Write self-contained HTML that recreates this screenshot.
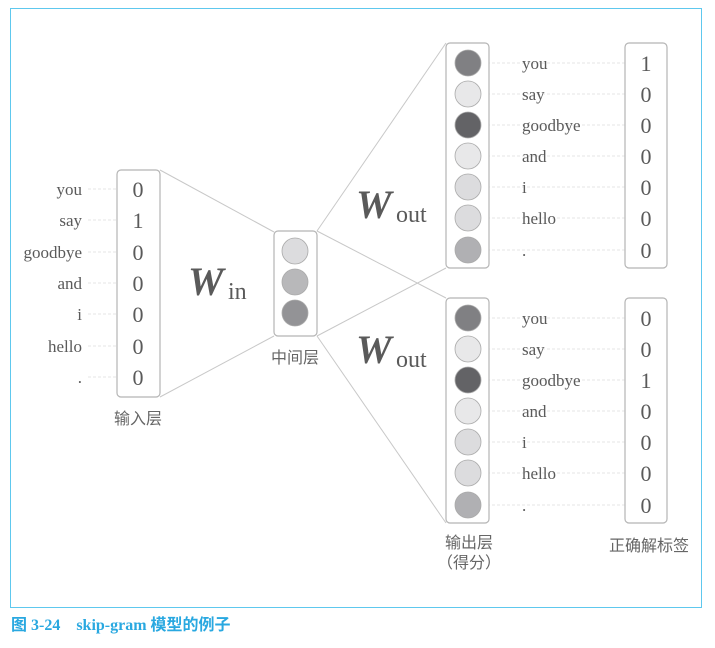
<!DOCTYPE html>
<html><head><meta charset="utf-8"><style>
body{margin:0;background:#fff;width:715px;height:643px;overflow:hidden}
svg text{font-family:"Liberation Serif","Noto Serif CJK SC",serif;fill:#5a5a5a}
.cj{font-family:"Liberation Sans","Noto Sans CJK SC",sans-serif;fill:#666;font-size:16px}
</style></head><body>
<svg width="715" height="643" xmlns="http://www.w3.org/2000/svg">
<rect x="10.5" y="8.5" width="691" height="599" fill="none" stroke="#5ec8ee" stroke-width="1"/>
<g stroke="#c8c8c8" stroke-width="1" fill="none">
<line x1="160" y1="170" x2="274" y2="232"/>
<line x1="160" y1="397" x2="274" y2="336"/>
<line x1="317" y1="231" x2="446" y2="43"/>
<line x1="317" y1="231" x2="446" y2="298"/>
<line x1="317" y1="336" x2="446" y2="268"/>
<line x1="317" y1="336" x2="446" y2="523"/>
</g>
<g stroke="#e6e6e6" stroke-dasharray="3,2" stroke-width="1">
<line x1="88" y1="189" x2="125" y2="189"/><line x1="88" y1="220" x2="125" y2="220"/><line x1="88" y1="252" x2="125" y2="252"/><line x1="88" y1="283" x2="125" y2="283"/><line x1="88" y1="314" x2="125" y2="314"/><line x1="88" y1="346" x2="125" y2="346"/><line x1="88" y1="377" x2="125" y2="377"/>
<line x1="482" y1="63" x2="635" y2="63"/><line x1="482" y1="94" x2="635" y2="94"/><line x1="482" y1="125" x2="635" y2="125"/><line x1="482" y1="156" x2="635" y2="156"/><line x1="482" y1="187" x2="635" y2="187"/><line x1="482" y1="218" x2="635" y2="218"/><line x1="482" y1="250" x2="635" y2="250"/>
<line x1="482" y1="318" x2="635" y2="318"/><line x1="482" y1="349" x2="635" y2="349"/><line x1="482" y1="380" x2="635" y2="380"/><line x1="482" y1="411" x2="635" y2="411"/><line x1="482" y1="442" x2="635" y2="442"/><line x1="482" y1="473" x2="635" y2="473"/><line x1="482" y1="505" x2="635" y2="505"/>
</g>
<g fill="#fff" stroke="#b5b5b5" stroke-width="1.2">
<rect x="117" y="170" width="43" height="227" rx="4"/>
<rect x="274" y="231" width="43" height="105" rx="4"/>
<rect x="446" y="43" width="43" height="225" rx="4"/>
<rect x="446" y="298" width="43" height="225" rx="4"/>
<rect x="625" y="43" width="42" height="225" rx="4"/>
<rect x="625" y="298" width="42" height="225" rx="4"/>
</g>
<g stroke="#aaa" stroke-width="0.8">
<circle cx="295" cy="251" r="13" fill="#dcdcde"/><circle cx="295" cy="282" r="13" fill="#b8b8ba"/><circle cx="295" cy="313" r="13" fill="#939396"/>
<circle cx="468" cy="63" r="13" fill="#808083"/><circle cx="468" cy="94" r="13" fill="#e8e8e9"/><circle cx="468" cy="125" r="13" fill="#636366"/><circle cx="468" cy="156" r="13" fill="#e8e8e9"/><circle cx="468" cy="187" r="13" fill="#dcdcde"/><circle cx="468" cy="218" r="13" fill="#dcdcde"/><circle cx="468" cy="250" r="13" fill="#b0b0b3"/>
<circle cx="468" cy="318" r="13" fill="#808083"/><circle cx="468" cy="349" r="13" fill="#e8e8e9"/><circle cx="468" cy="380" r="13" fill="#636366"/><circle cx="468" cy="411" r="13" fill="#e8e8e9"/><circle cx="468" cy="442" r="13" fill="#dcdcde"/><circle cx="468" cy="473" r="13" fill="#dcdcde"/><circle cx="468" cy="505" r="13" fill="#b0b0b3"/>
</g>
<g font-size="17" text-anchor="end">
<text x="82" y="195">you</text><text x="82" y="226">say</text><text x="82" y="258">goodbye</text><text x="82" y="289">and</text><text x="82" y="320">i</text><text x="82" y="352">hello</text><text x="82" y="383">.</text>
</g>
<g font-size="17">
<text x="522" y="69">you</text><text x="522" y="100">say</text><text x="522" y="131">goodbye</text><text x="522" y="162">and</text><text x="522" y="193">i</text><text x="522" y="224">hello</text><text x="522" y="256">.</text>
<text x="522" y="324">you</text><text x="522" y="355">say</text><text x="522" y="386">goodbye</text><text x="522" y="417">and</text><text x="522" y="448">i</text><text x="522" y="479">hello</text><text x="522" y="511">.</text>
</g>
<g font-size="22" text-anchor="middle">
<text x="138" y="197">0</text><text x="138" y="228">1</text><text x="138" y="260">0</text><text x="138" y="291">0</text><text x="138" y="322">0</text><text x="138" y="354">0</text><text x="138" y="385">0</text>
<text x="646" y="71">1</text><text x="646" y="102">0</text><text x="646" y="133">0</text><text x="646" y="164">0</text><text x="646" y="195">0</text><text x="646" y="226">0</text><text x="646" y="258">0</text>
<text x="646" y="326">0</text><text x="646" y="357">0</text><text x="646" y="388">1</text><text x="646" y="419">0</text><text x="646" y="450">0</text><text x="646" y="481">0</text><text x="646" y="513">0</text>
</g>
<text x="188" y="295" font-size="40" font-weight="bold" font-style="italic">W</text><text x="228" y="299" font-size="24">in</text>
<text x="356" y="218" font-size="40" font-weight="bold" font-style="italic">W</text><text x="396" y="222" font-size="24">out</text>
<text x="356" y="363" font-size="40" font-weight="bold" font-style="italic">W</text><text x="396" y="367" font-size="24">out</text>
<g class="cj" text-anchor="middle">
<text class="cj" x="138" y="424">输入层</text>
<text class="cj" x="295" y="363">中间层</text>
<text class="cj" x="469" y="548">输出层</text>
<text class="cj" x="469" y="568">（得分）</text>
<text class="cj" x="649" y="551">正确解标签</text>
</g>
<text x="11" y="630" font-size="16" font-weight="bold" style="fill:#29a8e0;font-family:'Liberation Serif','Noto Sans CJK SC',serif">图 3-24　skip-gram 模型的例子</text>
</svg>
</body></html>
